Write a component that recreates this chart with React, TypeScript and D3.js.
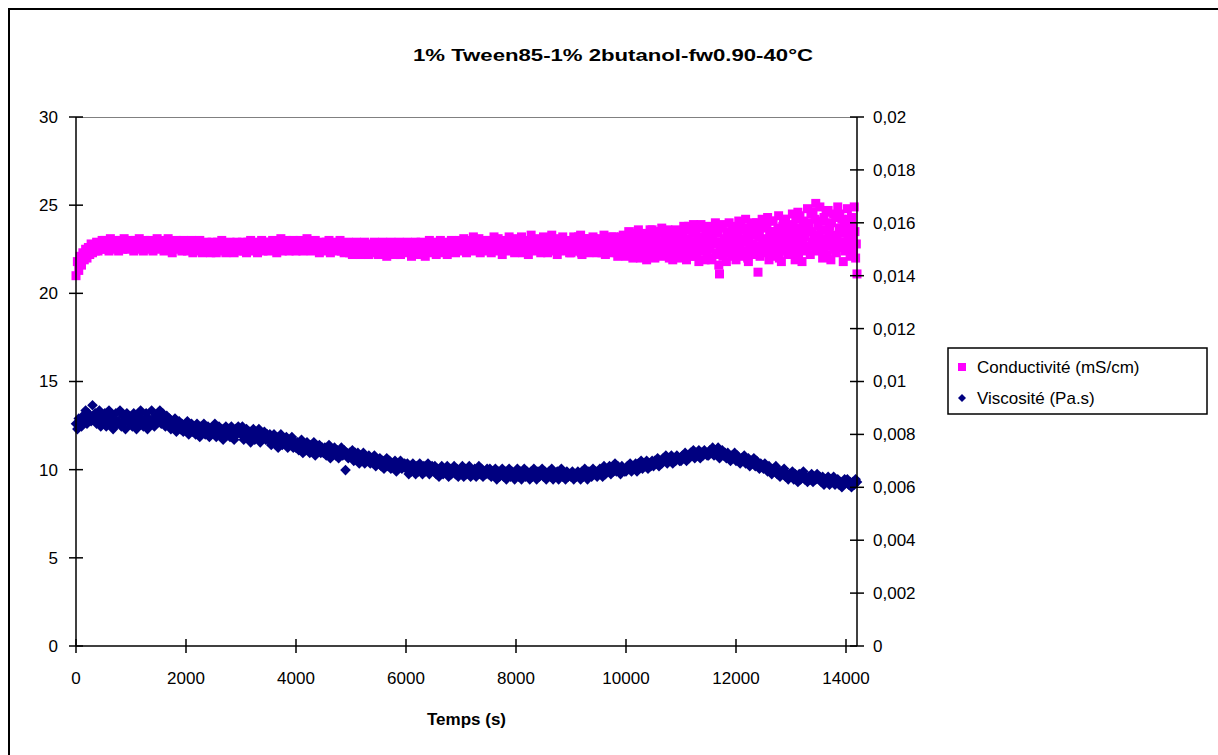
import React from "react";
import * as d3 from "d3";

// ---------- DATA ----------
const title = "1% Tween85-1% 2butanol-fw0.90-40°C";
const xTitle = "Temps (s)";
const seriesNames = ["Conductivité (mS/cm)", "Viscosité (Pa.s)"];
const xTicks = [0, 2000, 4000, 6000, 8000, 10000, 12000, 14000];
const yLeftTicks = [0, 5, 10, 15, 20, 25, 30];
const yRightTicks = [0, 0.002, 0.004, 0.006, 0.008, 0.01, 0.012, 0.014, 0.016, 0.018, 0.02];
const yRightLabels = ["0", "0,002", "0,004", "0,006", "0,008", "0,01", "0,012", "0,014", "0,016", "0,018", "0,02"];

// conductivity (mS/cm), one reading every 25 s from t = 0 s
const condStep = 25;
const conductivity = [
  21.0, 21.8, 21.3, 22.1, 21.6, 22.3, 21.9, 22.5, 22.0, 22.6, 22.2, 22.8, 22.3, 22.7, 22.4, 22.9, 22.4, 22.8, 22.5, 23.0,
  22.5, 23.0, 22.6, 22.9, 22.4, 23.1, 22.7, 22.5, 23.0, 22.6, 22.9, 22.4, 23.0, 22.7, 22.5, 23.1, 22.6, 22.9, 22.5, 23.0,
  22.6, 22.9, 22.4, 23.0, 22.7, 22.5, 23.1, 22.6, 22.8, 22.4, 23.0, 22.6, 22.9, 22.5, 23.0, 22.7, 22.4, 22.9, 22.6, 23.1,
  22.5, 22.9, 22.6, 23.0, 22.4, 22.8, 22.6, 23.1, 22.5, 22.9, 22.3, 22.8, 22.6, 23.0, 22.5, 22.9, 22.7, 22.4, 23.0, 22.6,
  22.9, 22.4, 22.8, 22.5, 23.0, 22.3, 22.7, 22.5, 22.9, 22.4, 23.0, 22.6, 22.3, 22.8, 22.5, 22.9, 22.4, 22.7, 22.3, 22.9,
  22.5, 22.8, 22.3, 22.9, 22.6, 22.4, 23.0, 22.5, 22.8, 22.3, 22.7, 22.5, 22.9, 22.4, 22.8, 22.3, 22.6, 22.9, 22.4, 22.7,
  22.5, 22.9, 22.4, 22.8, 22.3, 22.9, 22.6, 23.0, 22.4, 22.7, 22.5, 22.9, 22.3, 22.8, 22.6, 23.0, 22.4, 22.8, 22.5, 22.9,
  22.4, 22.9, 22.6, 23.0, 22.5, 22.8, 22.3, 22.9, 22.6, 23.1, 22.4, 22.8, 22.5, 23.0, 22.6, 22.4, 22.9, 22.5, 23.0, 22.6,
  22.4, 22.9, 22.5, 23.0, 22.6, 22.4, 22.9, 22.5, 23.1, 22.6, 22.8, 22.4, 22.9, 22.6, 23.0, 22.5, 22.8, 22.3, 22.9, 22.6,
  22.8, 22.4, 22.9, 22.5, 23.0, 22.3, 22.8, 22.6, 22.9, 22.4, 22.7, 22.5, 23.0, 22.4, 22.8, 22.3, 22.7, 22.5, 22.9, 22.3,
  22.7, 22.2, 22.8, 22.4, 22.9, 22.3, 22.6, 22.2, 22.8, 22.5, 22.9, 22.3, 22.7, 22.2, 22.8, 22.4, 22.6, 22.9, 22.3, 22.7,
  22.2, 22.8, 22.4, 22.9, 22.3, 22.7, 22.1, 22.8, 22.5, 22.9, 22.3, 22.6, 22.2, 22.8, 22.4, 22.9, 22.2, 22.7, 22.4, 22.8,
  22.3, 22.9, 22.4, 22.7, 22.1, 22.8, 22.5, 22.9, 22.2, 22.7, 22.4, 22.9, 22.3, 22.6, 22.1, 22.8, 22.5, 23.0, 22.3, 22.7,
  22.4, 22.9, 22.2, 22.8, 22.5, 23.0, 22.3, 22.7, 22.4, 22.9, 22.2, 22.8, 22.5, 23.0, 22.4, 22.7, 22.3, 22.9, 22.5, 23.0,
  22.4, 22.8, 23.1, 22.6, 22.3, 22.9, 23.0, 22.5, 22.7, 23.2, 22.4, 22.8, 22.6, 23.1, 22.3, 22.9, 22.5, 23.0, 22.7, 22.4,
  23.0, 22.6, 22.3, 22.9, 23.2, 22.5, 22.7, 23.1, 22.4, 22.8, 22.2, 22.9, 23.0, 22.6, 22.4, 23.2, 22.7, 22.5, 23.0, 22.3,
  22.8, 23.1, 22.4, 22.6, 23.2, 22.3, 22.9, 22.7, 23.0, 22.2, 22.6, 23.3, 22.5, 22.8, 23.1, 22.4, 22.7, 23.0, 22.3, 22.9,
  23.2, 22.5, 22.8, 22.3, 23.0, 22.6, 23.3, 22.4, 22.9, 22.7, 22.2, 23.1, 22.5, 22.8, 23.2, 22.4, 22.9, 22.6, 23.0, 22.3,
  22.3, 22.9, 23.2, 22.6, 22.4, 23.0, 22.7, 23.3, 22.2, 22.8, 22.5, 23.1, 22.6, 22.3, 23.0, 22.8, 23.2, 22.5, 22.7, 22.3,
  22.9, 22.4, 23.1, 22.6, 23.3, 22.2, 22.8, 22.5, 23.0, 22.7, 22.3, 23.2, 22.6, 22.9, 22.1, 23.1, 22.5, 22.8, 23.3, 22.4,
  22.1, 22.9, 23.5, 22.5, 23.1, 22.0, 22.7, 23.3, 22.3, 23.6, 22.8, 22.2, 23.0, 22.5, 23.4, 21.9, 22.9, 23.2, 22.4, 23.6,
  22.6, 22.0, 23.1, 23.5, 22.3, 22.8, 23.7, 22.1, 22.6, 23.3, 22.9, 22.2, 23.5, 22.7, 21.9, 23.0, 23.6, 22.4, 22.8, 23.2,
  22.0, 23.2, 23.8, 22.5, 21.9, 23.0, 23.6, 22.3, 22.8, 23.9, 22.1, 23.4, 22.6, 21.8, 23.1, 23.7, 22.4, 22.9, 23.5, 22.2,
  23.8, 22.6, 21.9, 23.3, 22.8, 24.0, 22.2, 23.5, 21.1, 22.9, 23.7, 22.4, 23.1, 21.8, 22.7, 24.0, 23.4, 22.1, 22.9, 23.6,
  21.9, 23.2, 24.1, 22.6, 23.6, 22.1, 22.9, 24.2, 23.4, 21.8, 22.5, 23.9, 22.8, 23.3, 22.2, 24.0, 21.2, 23.5, 22.7, 24.2,
  22.3, 23.7, 22.9, 24.3, 21.9, 23.2, 22.6, 24.1, 23.5, 22.1, 22.8, 24.4, 23.0, 21.8, 23.8, 22.5, 24.2, 23.3, 22.2, 23.9,
  22.3, 24.5, 23.4, 21.9, 22.9, 24.6, 23.7, 22.5, 21.8, 24.1, 23.2, 22.6, 24.8, 23.9, 22.2, 23.5, 24.6, 22.8, 25.1, 23.0,
  22.4, 24.9, 23.6, 22.0, 24.3, 23.1, 22.7, 24.7, 23.8, 21.9, 22.9, 24.5, 23.3, 22.3, 24.9, 23.7, 22.6, 24.2, 21.8, 23.5,
  22.5, 24.8, 23.4, 22.1, 24.3, 23.0, 24.9, 22.0, 21.1,
];

// extra conductivity readings between the above, every 25 s from t = 9012.5 s
const condLateStart = 9012.5;
const conductivityLate = [
  22.6, 22.4, 23.0, 22.8, 22.5, 23.2, 22.7, 22.3, 22.9, 23.1, 22.6, 22.4, 22.8, 23.0, 22.5, 22.7, 23.1, 22.4, 22.9, 22.6,
  22.7, 23.0, 22.3, 22.8, 22.5, 23.1, 22.6, 22.9, 22.4, 23.2, 22.7, 22.5, 23.0, 22.3, 22.8, 22.6, 23.2, 22.4, 22.9, 22.7,
  22.6, 23.2, 22.3, 22.8, 23.4, 22.1, 23.0, 22.5, 23.5, 22.7, 22.0, 23.3, 22.6, 22.9, 22.2, 23.1, 22.4, 23.6, 22.8, 22.3,
  23.0, 22.4, 23.4, 22.2, 22.7, 23.5, 22.9, 22.3, 23.2, 22.6, 23.6, 22.0, 22.8, 23.3, 22.5, 23.1, 22.2, 22.9, 23.5, 22.6,
  22.7, 23.5, 22.3, 23.1, 22.6, 23.8, 22.1, 22.9, 23.4, 22.5, 23.7, 22.2, 23.0, 22.7, 23.9, 22.4, 23.2, 21.9, 22.8, 23.6,
  22.5, 23.2, 22.0, 23.7, 22.9, 22.3, 23.4, 21.6, 22.7, 23.9, 22.1, 23.0, 22.6, 23.5, 22.3, 23.2, 22.8, 23.8, 22.4, 23.0,
  22.8, 23.4, 22.3, 23.9, 22.9, 23.1, 22.4, 23.7, 22.0, 23.0, 23.6, 22.3, 24.0, 22.7, 23.5, 22.5, 23.2, 22.1, 23.9, 22.8,
  23.1, 22.5, 23.9, 22.6, 23.5, 22.3, 24.1, 22.8, 23.2, 22.5, 23.7, 22.0, 23.4, 22.9, 24.2, 22.4, 23.0, 23.7, 22.6, 23.3,
  23.0, 23.8, 22.6, 24.2, 23.3, 22.1, 24.4, 23.1, 22.9, 23.6, 22.4, 24.0, 23.5, 22.7, 24.5, 22.9, 23.3, 24.2, 22.5, 23.8,
  23.3, 22.8, 24.1, 22.6, 23.6, 24.6, 22.2, 23.4, 22.9, 24.0, 23.2, 22.5, 24.3, 23.0, 22.7, 24.5, 23.4, 22.9, 24.0, 22.4,
  23.6, 23.0, 24.2, 22.7, 23.8, 22.4, 23.5, 22.8,
];

// viscosity (Pa.s), one reading every 25 s from t = 0 s
const viscStep = 25;
const viscosity = [
  0.0084, 0.0082, 0.0086, 0.0085, 0.0083, 0.0087, 0.0086, 0.0089, 0.0084, 0.0088, 0.0086, 0.0085, 0.0091, 0.0087, 0.0088, 0.0084, 0.0086, 0.0089, 0.0083, 0.0087,
  0.0085, 0.0088, 0.0083, 0.0086, 0.0089, 0.0084, 0.0087, 0.0082, 0.0086, 0.0088, 0.0084, 0.0085, 0.0089, 0.0083, 0.0087, 0.0085, 0.0082, 0.0088, 0.0086, 0.0084,
  0.0086, 0.0083, 0.0088, 0.0085, 0.0082, 0.0087, 0.0084, 0.0089, 0.0086, 0.0083, 0.0085, 0.0088, 0.0082, 0.0086, 0.0084, 0.0089, 0.0085, 0.0083, 0.0087, 0.0085,
  0.0086, 0.0089, 0.0084, 0.0088, 0.0085, 0.0083, 0.0087, 0.0084, 0.0086, 0.0082, 0.0085, 0.0083, 0.0086, 0.0081, 0.0084, 0.0085, 0.0082, 0.0084, 0.0081, 0.0083,
  0.0082, 0.0085, 0.0080, 0.0083, 0.0084, 0.0081, 0.0083, 0.0080, 0.0084, 0.0082, 0.0079, 0.0083, 0.0081, 0.0084, 0.0080, 0.0082, 0.0083, 0.0079, 0.0082, 0.0081,
  0.0081, 0.0084, 0.0079, 0.0082, 0.0083, 0.0080, 0.0082, 0.0078, 0.0081, 0.0083, 0.0080, 0.0082, 0.0079, 0.0083, 0.0081, 0.0078, 0.0082, 0.0080, 0.0083, 0.0081,
  0.0080, 0.0083, 0.0078, 0.0081, 0.0082, 0.0079, 0.0081, 0.0077, 0.0080, 0.0082, 0.0078, 0.0080, 0.0079, 0.0082, 0.0077, 0.0080, 0.0079, 0.0081, 0.0078, 0.0080,
  0.0078, 0.0080, 0.0076, 0.0079, 0.0080, 0.0077, 0.0079, 0.0075, 0.0078, 0.0080, 0.0076, 0.0078, 0.0077, 0.0079, 0.0075, 0.0078, 0.0076, 0.0079, 0.0075, 0.0077,
  0.0075, 0.0077, 0.0074, 0.0076, 0.0078, 0.0073, 0.0076, 0.0074, 0.0077, 0.0075, 0.0073, 0.0076, 0.0074, 0.0077, 0.0072, 0.0075, 0.0074, 0.0076, 0.0073, 0.0075,
  0.0073, 0.0075, 0.0072, 0.0074, 0.0076, 0.0071, 0.0074, 0.0073, 0.0075, 0.0072, 0.0074, 0.0071, 0.0073, 0.0075, 0.0072, 0.0074, 0.00665, 0.0073, 0.0071, 0.0073,
  0.0072, 0.0074, 0.0070, 0.0073, 0.0071, 0.0073, 0.0069, 0.0072, 0.0071, 0.0073, 0.0069, 0.0071, 0.0070, 0.0072, 0.0069, 0.0071, 0.0070, 0.0072, 0.0068, 0.0070,
  0.0069, 0.0071, 0.0068, 0.0070, 0.0067, 0.0069, 0.0071, 0.0068, 0.0070, 0.0067, 0.0069, 0.0068, 0.0070, 0.0066, 0.0069, 0.0068, 0.0070, 0.0067, 0.0068, 0.0069,
  0.0067, 0.0069, 0.0065, 0.0068, 0.0066, 0.0069, 0.0067, 0.0065, 0.0068, 0.0066, 0.0069, 0.0067, 0.0065, 0.0068, 0.0066, 0.0067, 0.0069, 0.0065, 0.0067, 0.0068,
  0.0066, 0.0068, 0.0065, 0.0067, 0.0064, 0.0066, 0.0068, 0.0065, 0.0067, 0.0066, 0.0068, 0.0064, 0.0067, 0.0065, 0.0066, 0.0068, 0.0065, 0.0067, 0.0064, 0.0066,
  0.0066, 0.0068, 0.0064, 0.0067, 0.0065, 0.0066, 0.0068, 0.0064, 0.0066, 0.0065, 0.0067, 0.0064, 0.0066, 0.0068, 0.0065, 0.0067, 0.0064, 0.0066, 0.0065, 0.0067,
  0.0065, 0.0067, 0.0064, 0.0066, 0.0065, 0.0067, 0.0063, 0.0066, 0.0064, 0.0065, 0.0067, 0.0064, 0.0066, 0.0063, 0.0065, 0.0067, 0.0064, 0.0066, 0.0065, 0.0063,
  0.0065, 0.0067, 0.0064, 0.0066, 0.0063, 0.0065, 0.0067, 0.0064, 0.0066, 0.0065, 0.0063, 0.0066, 0.0064, 0.0067, 0.0065, 0.0063, 0.0066, 0.0064, 0.0065, 0.0067,
  0.0064, 0.0066, 0.0063, 0.0065, 0.0066, 0.0064, 0.0067, 0.0063, 0.0065, 0.0064, 0.0066, 0.0063, 0.0065, 0.0067, 0.0064, 0.0065, 0.0063, 0.0066, 0.0064, 0.0065,
  0.0064, 0.0066, 0.0063, 0.0065, 0.0064, 0.0066, 0.0065, 0.0063, 0.0066, 0.0064, 0.0067, 0.0065, 0.0063, 0.0066, 0.0065, 0.0064, 0.0067, 0.0065, 0.0066, 0.0064,
  0.0065, 0.0067, 0.0066, 0.0064, 0.0068, 0.0065, 0.0067, 0.0066, 0.0068, 0.0065, 0.0067, 0.0066, 0.0069, 0.0066, 0.0068, 0.0067, 0.0065, 0.0068, 0.0067, 0.0066,
  0.0066, 0.0068, 0.0067, 0.0069, 0.0066, 0.0068, 0.0067, 0.0069, 0.0066, 0.0069, 0.0068, 0.0070, 0.0067, 0.0069, 0.0068, 0.0070, 0.0067, 0.0069, 0.0068, 0.0070,
  0.0068, 0.0070, 0.0069, 0.0071, 0.0068, 0.0070, 0.0069, 0.0071, 0.0070, 0.0072, 0.0069, 0.0071, 0.0070, 0.0072, 0.0069, 0.0071, 0.0070, 0.0072, 0.0071, 0.0070,
  0.0070, 0.0072, 0.0071, 0.0073, 0.0070, 0.0072, 0.0071, 0.0073, 0.0072, 0.0074, 0.0071, 0.0073, 0.0072, 0.0074, 0.0071, 0.0073, 0.0072, 0.0074, 0.0073, 0.0072,
  0.0072, 0.0074, 0.0073, 0.0075, 0.0072, 0.0074, 0.0073, 0.0075, 0.0071, 0.0073, 0.0074, 0.0072, 0.0073, 0.0071, 0.0073, 0.0072, 0.0070, 0.0072, 0.0071, 0.0073,
  0.0070, 0.0072, 0.0071, 0.0069, 0.0071, 0.0070, 0.0072, 0.0069, 0.0070, 0.0071, 0.0068, 0.0070, 0.0069, 0.0071, 0.0068, 0.0070, 0.0069, 0.0067, 0.0069, 0.0068,
  0.0067, 0.0069, 0.0068, 0.0066, 0.0068, 0.0067, 0.0065, 0.0067, 0.0066, 0.0068, 0.0065, 0.0066, 0.0064, 0.0066, 0.0065, 0.0067, 0.0064, 0.0065, 0.0063, 0.0065,
  0.0064, 0.0066, 0.0063, 0.0065, 0.0064, 0.0062, 0.0065, 0.0063, 0.0064, 0.0066, 0.0063, 0.0064, 0.0062, 0.0064, 0.0063, 0.0065, 0.0062, 0.0064, 0.0063, 0.0065,
  0.0063, 0.0064, 0.0062, 0.0064, 0.0061, 0.0063, 0.0062, 0.0064, 0.0061, 0.0063, 0.0062, 0.0064, 0.0061, 0.0062, 0.0063, 0.0061, 0.0062, 0.0060, 0.0062, 0.0063,
  0.0062, 0.0063, 0.0061, 0.0062, 0.0060, 0.0062, 0.0061, 0.0063, 0.0062,
];

// ---------- CHART ----------
const W = 1218;
const H = 755;
const FONT = "'Liberation Sans', Arial, sans-serif";
const PINK = "#FF00FF";
const NAVY = "#000080";

export default function App() {
  const x = d3.scaleLinear().domain([0, 14200]).range([76, 857]);
  const yL = d3.scaleLinear().domain([0, 30]).range([646, 117]);
  const yR = d3.scaleLinear().domain([0, 0.02]).range([646, 117]);
  const [x0, x1] = x.range();
  const [yb, yt] = yL.range();

  const diamond = (cx: number, cy: number, r: number) =>
    `M${cx},${cy - r}L${cx + r},${cy}L${cx},${cy + r}L${cx - r},${cy}Z`;

  const condPts = [
    ...conductivity.map((v, i) => [x(i * condStep), yL(v)]),
    ...conductivityLate.map((v, i) => [x(condLateStart + i * condStep), yL(v)]),
  ];
  const viscPts = viscosity.map((v, i) => [x(i * viscStep), yR(v)]);
  const sq = 9;
  const dr = 5.3;

  return (
    <svg
      width={W}
      height={H}
      style={{ position: "absolute", left: 0, top: 0, background: "#fff" }}
      fontFamily={FONT}
    >
      <rect x={0} y={0} width={W} height={H} fill="#fff" />
      {/* outer chart border */}
      <rect x={9} y={9} width={W + 10} height={H + 10} fill="none" stroke="#000" strokeWidth={2} />

      {/* title */}
      <text x={613} y={61} textAnchor="middle" fontSize={17} fontWeight="bold" textLength={400} lengthAdjust="spacingAndGlyphs">
        {title}
      </text>

      {/* plot area top edge */}
      <line x1={x0} x2={x1} y1={yt + 0.5} y2={yt + 0.5} stroke="#808080" strokeWidth={1} />

      {/* data */}
      <g fill={PINK}>
        {condPts.map(([cx, cy], i) => (
          <rect key={i} x={cx - sq / 2} y={cy - sq / 2} width={sq} height={sq} />
        ))}
      </g>
      <g fill={NAVY}>
        {viscPts.map(([cx, cy], i) => (
          <path key={i} d={diamond(cx, cy, dr)} />
        ))}
      </g>

      {/* axes */}
      <g stroke="#000" strokeWidth={1.5}>
        <line x1={x0} x2={x0} y1={yt} y2={yb} />
        <line x1={x1} x2={x1} y1={yt} y2={yb} />
        <line x1={x0} x2={x1} y1={yb} y2={yb} />
        {yLeftTicks.map((t) => (
          <line key={"l" + t} x1={x0 - 7} x2={x0 + 7} y1={yL(t)} y2={yL(t)} />
        ))}
        {yRightTicks.map((t) => (
          <line key={"r" + t} x1={x1 - 7} x2={x1 + 7} y1={yR(t)} y2={yR(t)} />
        ))}
        {xTicks.map((t) => (
          <line key={"x" + t} x1={x(t)} x2={x(t)} y1={yb - 7} y2={yb + 7} />
        ))}
      </g>

      {/* tick labels */}
      <g fontSize={17} fill="#000">
        {yLeftTicks.map((t) => (
          <text key={"lt" + t} x={58} y={yL(t)} dy="0.35em" textAnchor="end">
            {t}
          </text>
        ))}
        {yRightTicks.map((t, i) => (
          <text key={"rt" + t} x={873} y={yR(t)} dy="0.35em" textAnchor="start">
            {yRightLabels[i]}
          </text>
        ))}
        {xTicks.map((t) => (
          <text key={"xt" + t} x={x(t)} y={678} dy="0.35em" textAnchor="middle">
            {t}
          </text>
        ))}
      </g>

      {/* x axis title */}
      <text x={(x0 + x1) / 2} y={719} dy="0.35em" textAnchor="middle" fontSize={17} fontWeight="bold">
        {xTitle}
      </text>

      {/* legend */}
      <rect x={948} y={348} width={259} height={66} fill="#fff" stroke="#000" strokeWidth={1.5} />
      <rect x={962 - 4} y={367 - 4} width={8} height={8} fill={PINK} />
      <text x={977} y={367} dy="0.35em" fontSize={17}>
        {seriesNames[0]}
      </text>
      <path d={diamond(962, 398, 4)} fill={NAVY} />
      <text x={977} y={398} dy="0.35em" fontSize={17}>
        {seriesNames[1]}
      </text>
    </svg>
  );
}
